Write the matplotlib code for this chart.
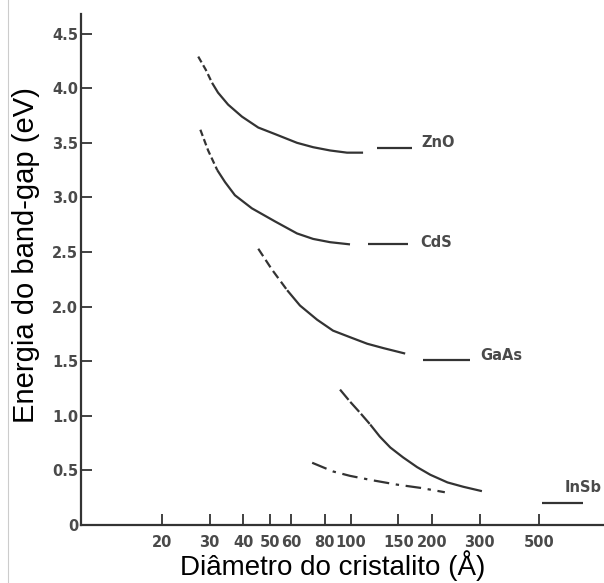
import numpy as np
import matplotlib
matplotlib.use('Agg')
import matplotlib.pyplot as plt
from matplotlib.lines import Line2D

# values (diameter in angstrom, energy in eV)
zno_dash_x = [27.2, 29.0, 30.6]
zno_dash_y = [4.29, 4.17, 4.05]
zno_x = [30.6, 32.2, 35.1, 39.5, 45.4, 52.4, 63.2, 72.5, 83.8, 96.8, 111]
zno_y = [4.05, 3.96, 3.85, 3.74, 3.64, 3.58, 3.50, 3.46, 3.43, 3.41, 3.41]
zno_bulk_x = [125, 169]
zno_bulk_y = [3.45, 3.45]

cds_dash_x = [27.7, 29.6, 32.0]
cds_dash_y = [3.62, 3.43, 3.25]
cds_x = [32.0, 34.2, 37.2, 43.0, 52.4, 63.2, 72.5, 83.8, 99.3]
cds_y = [3.25, 3.14, 3.02, 2.90, 2.78, 2.67, 2.62, 2.59, 2.57]
cds_bulk_x = [116, 163]
cds_bulk_y = [2.57, 2.57]

gaas_dash_x = [45.4, 51.0, 58.1]
gaas_dash_y = [2.53, 2.34, 2.15]
gaas_x = [58.1, 64.8, 75.0, 85.9, 99.3, 115, 132, 159]
gaas_y = [2.15, 2.01, 1.88, 1.78, 1.72, 1.66, 1.62, 1.57]
gaas_bulk_x = [185, 277]
gaas_bulk_y = [1.51, 1.51]

insb_dash_x = [91.2, 99.3, 108, 118]
insb_dash_y = [1.24, 1.13, 1.03, 0.92]
insb_x = [118, 128, 140, 156, 176, 197, 228, 261, 306]
insb_y = [0.92, 0.81, 0.71, 0.62, 0.53, 0.46, 0.39, 0.35, 0.31]
insb_bulk_x = [511, 725]
insb_bulk_y = [0.20, 0.20]

dashdot_x = [71.9, 86.0, 99.3, 120, 148, 181, 223]
dashdot_y = [0.57, 0.49, 0.45, 0.41, 0.37, 0.34, 0.30]

labels = ['ZnO', 'CdS', 'GaAs', 'InSb']
label_x = [182, 181, 301, 622]
label_y = [3.50, 2.59, 1.55, 0.34]

xticks = [20, 30, 40, 50, 60, 80, 100, 150, 200, 300, 500]
xtick_labels = ['20', '30', '40', '50', '60', '80', '100', '150', '200', '300', '500']
yticks = [0, 0.5, 1.0, 1.5, 2.0, 2.5, 3.0, 3.5, 4.0, 4.5]
ytick_labels = ['0', '0.5', '1.0', '1.5', '2.0', '2.5', '3.0', '3.5', '4.0', '4.5']

ink = '#333333'
tick_ink = '#4a4a4a'

fig = plt.figure(figsize=(6.04, 5.83), dpi=100)
ax = fig.add_axes([0.134, 0.0995, 0.866, 0.8765])

solid = dict(color=ink, lw=1.6, solid_capstyle='butt')
for xs, ys in [(zno_x, zno_y), (cds_x, cds_y), (gaas_x, gaas_y), (insb_x, insb_y),
               (zno_bulk_x, zno_bulk_y), (cds_bulk_x, cds_bulk_y),
               (gaas_bulk_x, gaas_bulk_y), (insb_bulk_x, insb_bulk_y)]:
    ax.plot(xs, ys, **solid)

for xs, ys in [(zno_dash_x, zno_dash_y), (cds_dash_x, cds_dash_y)]:
    ax.plot(xs, ys, color=ink, lw=1.6, dashes=(3, 1.5))
ax.plot(gaas_dash_x, gaas_dash_y, color=ink, lw=1.6, dashes=(4, 2))
ax.plot(insb_dash_x, insb_dash_y, color=ink, lw=1.6, dashes=(6, 1.2))
ax.plot(dashdot_x, dashdot_y, color=ink, lw=1.6, dashes=(7, 3, 1.5, 3))

for t, x, y in zip(labels, label_x, label_y):
    ax.text(x, y, t, fontsize=10.5, fontweight='bold', color=tick_ink, ha='left', va='center')

ax.set_xscale('log')
ax.set_xlim(10, 867)
ax.set_ylim(0, 4.68)
ax.set_xticks(xticks)
ax.set_xticklabels(xtick_labels)
ax.xaxis.set_minor_locator(matplotlib.ticker.NullLocator())
ax.set_yticks(yticks)
ax.set_yticklabels(ytick_labels)

ax.tick_params(axis='both', direction='in', length=8, width=1.3, color=ink,
               labelcolor=tick_ink, labelsize=10.5)
ax.tick_params(axis='x', pad=7)
ax.tick_params(axis='y', pad=2)
for lbl in ax.get_xticklabels() + ax.get_yticklabels():
    lbl.set_fontweight('bold')

for s in ['top', 'right']:
    ax.spines[s].set_visible(False)
for s in ['left', 'bottom']:
    ax.spines[s].set_color(ink)
    ax.spines[s].set_linewidth(1.6)

ax.set_xlabel('Diâmetro do cristalito (Å)', fontsize=20, family='Liberation Sans', color='black')
ax.set_ylabel('Energia do band-gap (eV)', fontsize=21, family='Liberation Sans', color='black')
ax.xaxis.label.set_va('baseline')
ax.xaxis.set_label_coords(0.482, -0.098)
ax.yaxis.set_label_coords(-0.078, 0.528)

# faint scan border on the left edge
fig.add_artist(Line2D([8 / 604, 8 / 604], [0, 1], color='#cccccc', lw=0.8))

fig.savefig('out.png', dpi=100)
